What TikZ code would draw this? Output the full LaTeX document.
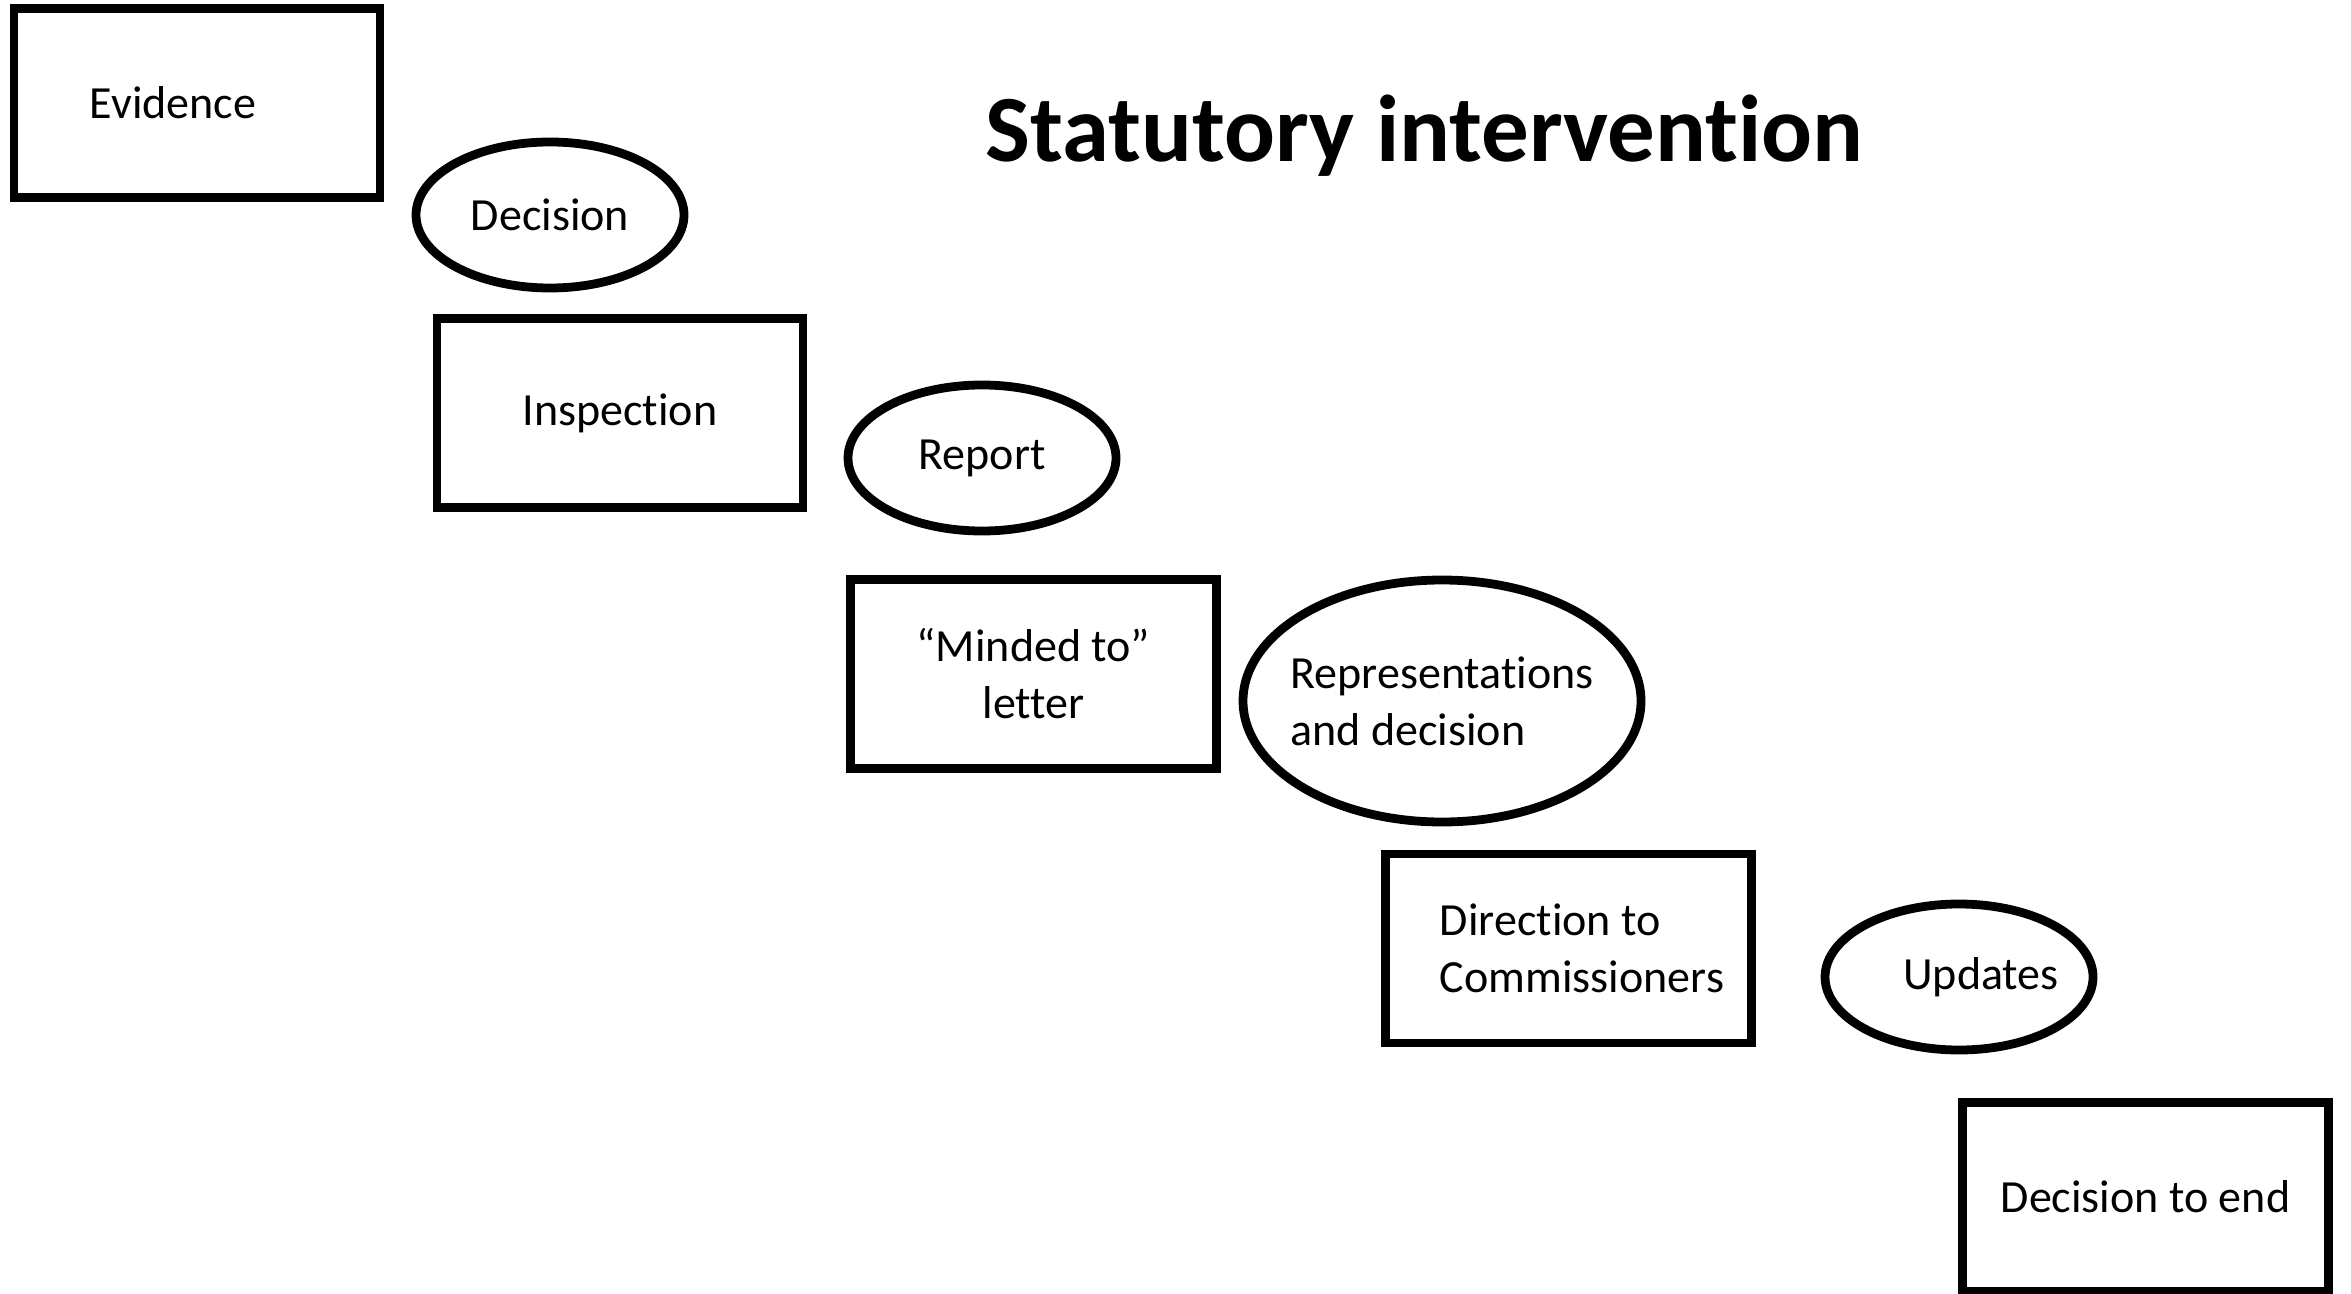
\documentclass[tikz,border=0pt]{standalone}
\usepackage{fontspec}
\setmainfont[RawFeature={-liga;-clig;-calt;-dlig}]{Carlito}
\usepackage{tikz}
\usetikzlibrary{shapes.geometric}
\usetikzlibrary{calc}

\tikzset{
    stage/.style={draw, rectangle, line width=2.5pt, inner sep=0pt,
        minimum width=3.66cm, minimum height=1.89cm,
        font=\fontsize{13.1}{16.2}\selectfont},
    event/.style={draw, ellipse, line width=2.5pt, inner sep=0pt,
        minimum width=2.68cm, minimum height=1.46cm,
        font=\fontsize{13.1}{16.2}\selectfont},
}

\begin{document}
\begin{tikzpicture}
    \useasboundingbox (0,0) rectangle (23.51,-12.94);

    \coordinate (pEvi) at (1.97,-1.03);
    \coordinate (pDec) at (5.50,-2.15);
    \coordinate (pIns) at (6.20,-4.13);
    \coordinate (pRep) at (9.82,-4.51);
    \coordinate (pMin) at (10.335,-6.74);
    \coordinate (pRpd) at (14.42,-7.01);
    \coordinate (pDir) at (15.685,-9.485);
    \coordinate (pUpd) at (19.59,-9.77);
    \coordinate (pEnd) at (21.455,-11.97);

    % Boxes
    \node[stage] (evidence) at (pEvi) {\hspace*{-0.24cm}Evidence\hspace*{0.24cm}};
    \node[stage] (inspection) at (pIns) {Inspection};
    \node[stage, align=center] (minded) at (pMin) {“Minded to”\\letter};
    \node[stage, align=left] (direction) at (pDir) {\hspace*{0.27cm}Direction to\\\hspace*{0.27cm}Commissioners};
    \node[stage] (ending) at (pEnd) {Decision to end};

    % Ellipses
    \node[event] (decision) at (pDec) {Decision};
    \node[event] (report) at ($(pRep)+(0,-0.07)$) {Report};
    \node[event, inner xsep=-0.25cm, minimum width=3.98cm, minimum height=2.42cm, align=left] (representations) at (pRpd) {Representations\\and decision};
    \node[event] (updates) at (pUpd) {\hspace*{0.22cm}Updates\hspace*{-0.22cm}};

    % Title
    \node[anchor=base, font=\bfseries\fontsize{27}{32}\selectfont] (title) at (14.245,-1.62) {Statutory intervention};
\end{tikzpicture}
\end{document}
